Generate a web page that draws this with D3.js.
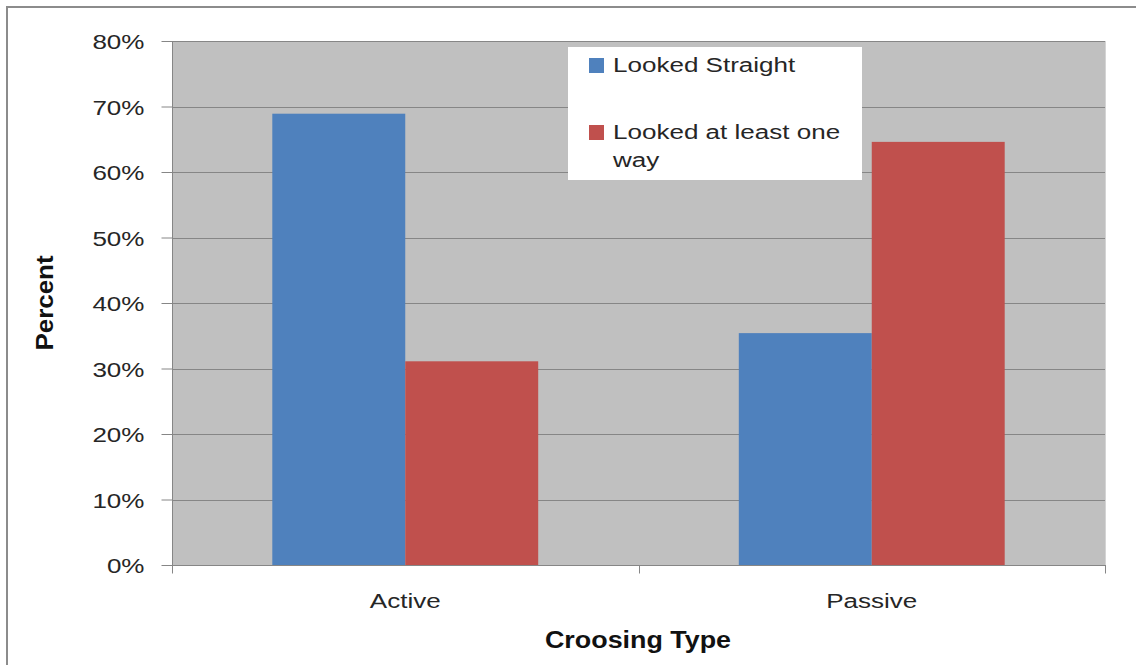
<!DOCTYPE html>
<html>
<head>
<meta charset="utf-8">
<script src="https://cdn.jsdelivr.net/npm/d3@7"></script>
<style>
  html, body { margin: 0; padding: 0; background: #fff; }
  svg { display: block; }
</style>
</head>
<body>
<script>
// ---- data ----
const categories = ["Active", "Passive"];
const seriesNames = ["Looked Straight", "Looked at least one way"];
const lookedStraight = [68.9, 35.4];
const lookedAtLeastOneWay = [31.1, 64.6];
const yTicks = [0, 10, 20, 30, 40, 50, 60, 70, 80];
const yTitle = "Percent";
const xTitle = "Croosing Type";

// ---- layout ----
const W = 1136, H = 665;
const plot = { left: 172, right: 1105, top: 41, bottom: 565 };
const colors = ["#4F81BD", "#C0504D"];
const sx = 1.24; // horizontal stretch of text glyphs
const font = "'Liberation Sans', Arial, sans-serif";

const svg = d3.select("body").append("svg").attr("width", W).attr("height", H);

// outer chart border
svg.append("rect").attr("x", 7).attr("y", 7).attr("width", W + 20).attr("height", H + 20)
  .attr("fill", "#fff").attr("stroke", "#8c8c8c").attr("stroke-width", 2);

const x0 = d3.scaleBand().domain(categories).range([plot.left, plot.right])
  .paddingInner(0.43).paddingOuter(0.215);
const x1 = d3.scaleBand().domain(seriesNames).range([0, x0.bandwidth()]);
const y = d3.scaleLinear().domain([0, 80]).range([plot.bottom, plot.top]);

// plot background
svg.append("rect").attr("x", plot.left).attr("y", plot.top)
  .attr("width", plot.right - plot.left).attr("height", plot.bottom - plot.top)
  .attr("fill", "#C0C0C0");
svg.append("line").attr("x1", plot.right + 0.5).attr("x2", plot.right + 0.5)
  .attr("y1", plot.top).attr("y2", plot.bottom).attr("stroke", "#d4d4d4");

// gridlines
svg.append("g").selectAll("line").data(yTicks.filter(d => d > 0)).join("line")
  .attr("x1", plot.left).attr("x2", plot.right)
  .attr("y1", d => Math.round(y(d)) + 0.5).attr("y2", d => Math.round(y(d)) + 0.5)
  .attr("stroke", "#868686").attr("stroke-width", 1);

// bars
const series = [lookedStraight, lookedAtLeastOneWay];
const barG = svg.append("g");
categories.forEach((c, ci) => {
  seriesNames.forEach((s, si) => {
    const v = series[si][ci];
    barG.append("rect")
      .attr("x", x0(c) + x1(s))
      .attr("y", y(v))
      .attr("width", x1.bandwidth())
      .attr("height", y(0) - y(v))
      .attr("fill", colors[si]);
  });
});

// y axis
const yAxis = d3.axisLeft(y).tickValues(yTicks).tickSize(11).tickFormat(d => d + "%");
const gy = svg.append("g").attr("transform", `translate(${plot.left + 0.5},0)`).call(yAxis);
gy.select(".domain").attr("stroke", "#868686").attr("d", `M0,${plot.top}V${plot.bottom}`);
gy.selectAll(".tick line").attr("stroke", "#868686").attr("x2", -11);
gy.selectAll(".tick text").remove();
gy.selectAll(".tick").append("text")
  .attr("transform", `translate(-28,0) scale(${sx},1)`)
  .attr("text-anchor", "end").attr("dy", "0.36em")
  .attr("fill", "#262626").attr("font-family", font).attr("font-size", 21)
  .text(d => d + "%");

// x axis
const gx = svg.append("g").attr("transform", `translate(0,${plot.bottom + 0.5})`);
gx.append("line").attr("x1", plot.left).attr("x2", plot.right + 1)
  .attr("stroke", "#868686");
const sepTicks = [plot.left, (x0.range()[0] + x0.range()[1]) / 2, plot.right];
gx.selectAll("line.sep").data(sepTicks).join("line").attr("class", "sep")
  .attr("x1", d => Math.round(d) + 0.5).attr("x2", d => Math.round(d) + 0.5)
  .attr("y1", 0).attr("y2", 8).attr("stroke", "#868686");
gx.selectAll("text").data(categories).join("text")
  .attr("transform", d => `translate(${x0(d) + x0.bandwidth() / 2},${607 - plot.bottom}) scale(${sx},1)`)
  .attr("text-anchor", "middle").attr("fill", "#262626")
  .attr("font-family", font).attr("font-size", 21).text(d => d);

// axis titles
svg.append("text")
  .attr("transform", `translate(53,303) rotate(-90) scale(1.08,1)`)
  .attr("text-anchor", "middle").attr("font-weight", "bold").attr("fill", "#111")
  .attr("font-family", font).attr("font-size", 24).text(yTitle);
svg.append("text")
  .attr("transform", `translate(638,648) scale(1.12,1)`)
  .attr("text-anchor", "middle").attr("font-weight", "bold").attr("fill", "#111")
  .attr("font-family", font).attr("font-size", 24).text(xTitle);

// legend
const lg = svg.append("g");
lg.append("rect").attr("x", 568).attr("y", 47).attr("width", 294).attr("height", 133).attr("fill", "#fff");
const legendLines = [["Looked Straight"], ["Looked at least one", "way"]];
const legendY = [72, 139];
seriesNames.forEach((s, i) => {
  lg.append("rect").attr("x", 589).attr("y", legendY[i] - 14).attr("width", 15).attr("height", 15)
    .attr("fill", colors[i]);
  legendLines[i].forEach((t, j) => {
    lg.append("text")
      .attr("transform", `translate(613,${legendY[i] + j * 28}) scale(${sx},1)`)
      .attr("fill", "#262626").attr("font-family", font).attr("font-size", 21).text(t);
  });
});
</script>
</body>
</html>
